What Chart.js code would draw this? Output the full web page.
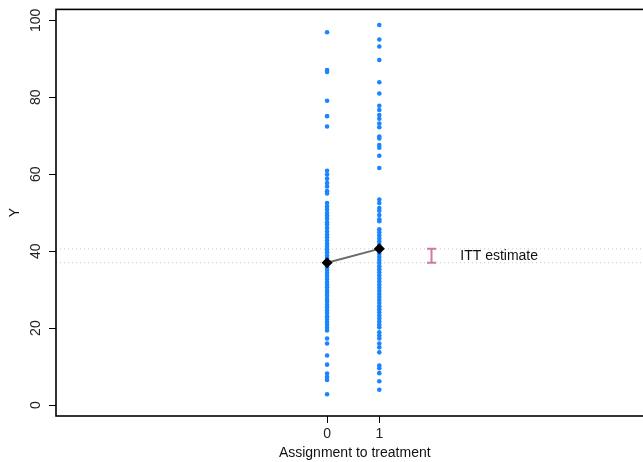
<!DOCTYPE html>
<html>
<head>
<meta charset="utf-8">
<script src="https://cdn.jsdelivr.net/npm/chart.js@4.4.1/dist/chart.umd.min.js"></script>
<style>
  html, body { margin: 0; padding: 0; background: #fff; overflow: hidden; }
  #wrap { width: 643px; height: 462px; overflow: hidden; }
</style>
</head>
<body>
<div id="wrap"><canvas id="c" width="660" height="462"></canvas></div>
<script>
// ---- data ----
const groups = [0, 1];
const groupLabels = ["0", "1"];
const yControl = [96.9, 87.1, 86.6, 79.1, 75.1, 72.4,
  60.9, 59.9, 58.8, 57.7, 56.8, 55.6, 55.0,
  52.5, 51.6, 50.8, 49.9, 49.2, 48.4, 47.5, 46.9, 46.0, 45.1, 44.3, 43.6, 42.8, 41.9,
  41.2, 40.5, 39.7, 38.9, 38.2, 37.4, 36.6, 35.8, 35.1, 34.3, 33.6, 32.8, 32.0, 31.3,
  30.6, 29.8, 29.1, 28.4, 27.6, 26.9, 26.1, 25.4, 24.6, 23.9, 23.1, 22.4, 21.6, 20.9,
  20.1, 19.4, 17.3, 16.0, 12.9, 10.5, 8.2, 7.3, 6.5, 2.8];
const yTreated = [98.8, 95.0, 93.2, 89.7, 83.9, 81.0, 77.8, 76.7, 75.4, 74.4, 73.2, 72.2,
  69.8, 69.3, 67.6, 66.9, 64.8, 61.6, 53.4, 52.5, 51.2, 50.5, 49.4, 48.3, 47.8,
  45.7, 44.9, 44.1, 43.3, 42.5, 41.7, 40.9, 40.1, 39.3, 38.5, 37.7, 36.9, 36.1, 35.3,
  34.5, 33.7, 32.9, 32.1, 31.3, 30.5, 29.7, 28.9, 28.1, 27.3, 26.5, 25.7, 24.9, 24.1,
  23.3, 22.5, 21.7, 20.9, 20.2, 18.9, 18.1, 17.3, 16.0, 15.0, 13.7, 10.3, 9.6, 8.3, 6.2, 4.0];
const groupMeans = [37.0, 40.6];
const ittX = 2;
const ittLabel = "ITT estimate";
const yTicks = [0, 20, 40, 60, 80, 100];
const xTitle = "Assignment to treatment";
const yTitle = "Y";

const X_MIN = -5.19, X_MAX = 6.25;
const FONT = "'Liberation Sans', Arial, Helvetica, sans-serif";

const pts = (x, arr) => arr.map(v => ({ x: x, y: v }));

const boxPlugin = {
  id: 'box',
  afterDraw(chart) {
    const { ctx, chartArea: a, scales } = chart;
    ctx.save();
    ctx.strokeStyle = '#000';
    ctx.lineWidth = 1.6;
    ctx.strokeRect(a.left, a.top, a.right - a.left, a.bottom - a.top);
    const xs = scales.x, ys = scales.y;
    ctx.fillStyle = '#111';
    ctx.font = "14px " + FONT;
    ctx.textAlign = 'left';
    ctx.textBaseline = 'middle';
    ctx.fillText(ittLabel, xs.getPixelForValue(ittX + 0.55), ys.getPixelForValue((groupMeans[0] + groupMeans[1]) / 2));
    ctx.restore();
  }
};

new Chart(document.getElementById('c'), {
  type: 'scatter',
  data: {
    datasets: [
      { data: [{ x: X_MIN, y: groupMeans[0] }, { x: X_MAX, y: groupMeans[0] }], showLine: true,
        borderColor: '#c8c8c8', borderWidth: 1, borderDash: [1, 3], pointRadius: 0, order: 5 },
      { data: [{ x: X_MIN, y: groupMeans[1] }, { x: X_MAX, y: groupMeans[1] }], showLine: true,
        borderColor: '#c8c8c8', borderWidth: 1, borderDash: [1, 3], pointRadius: 0, order: 5 },
      { data: pts(groups[0], yControl), backgroundColor: '#1985ff', borderWidth: 0, pointRadius: 2.3, order: 4 },
      { data: pts(groups[1], yTreated), backgroundColor: '#1985ff', borderWidth: 0, pointRadius: 2.3, order: 4 },
      { data: [{ x: groups[0], y: groupMeans[0] }, { x: groups[1], y: groupMeans[1] }], showLine: true,
        borderColor: '#6a6a6a', borderWidth: 2, pointStyle: 'rectRot', pointRadius: 5.5,
        pointBackgroundColor: '#000', pointBorderColor: '#000', pointBorderWidth: 0, order: 2 },
      { data: [{ x: ittX, y: groupMeans[0] }, { x: ittX, y: groupMeans[1] }], showLine: true,
        borderColor: '#cc79a7', borderWidth: 2, pointStyle: 'line', pointRadius: 4.5,
        pointBorderColor: '#cc79a7', pointBorderWidth: 2, order: 1 }
    ]
  },
  options: {
    responsive: false,
    animation: false,
    events: [],
    layout: { padding: { top: 7, right: 0, left: 0, bottom: 0 } },
    plugins: { legend: { display: false }, tooltip: { enabled: false } },
    scales: {
      x: {
        type: 'linear', min: X_MIN, max: X_MAX,
        afterBuildTicks: s => { s.ticks = groups.map(v => ({ value: v })); },
        afterFit: s => { s.height = 46; },
        grid: { display: true, drawOnChartArea: false, drawTicks: true, tickLength: 7, tickColor: '#000', tickWidth: 1 },
        border: { display: false },
        ticks: { color: '#222', font: { family: FONT, size: 14 }, padding: 3, maxRotation: 0,
                 callback: (v) => groupLabels[groups.indexOf(v)] },
        title: { display: true, text: xTitle, color: '#111', font: { family: FONT, size: 14 }, padding: { top: 0, bottom: 0 } }
      },
      y: {
        type: 'linear', min: -2.84, max: 102.84,
        afterBuildTicks: s => { s.ticks = yTicks.map(v => ({ value: v })); },
        afterFit: s => { s.width = 56; },
        grid: { display: true, drawOnChartArea: false, drawTicks: true, tickLength: 7, tickColor: '#000', tickWidth: 1 },
        border: { display: false },
        ticks: { color: '#222', font: { family: FONT, size: 14 }, padding: 1, minRotation: 90, maxRotation: 90,
                 crossAlign: 'center' },
        title: { display: true, text: yTitle, color: '#111', font: { family: FONT, size: 14 }, padding: { top: 7, bottom: 0 } }
      }
    }
  },
  plugins: [boxPlugin]
});
</script>
</body>
</html>
